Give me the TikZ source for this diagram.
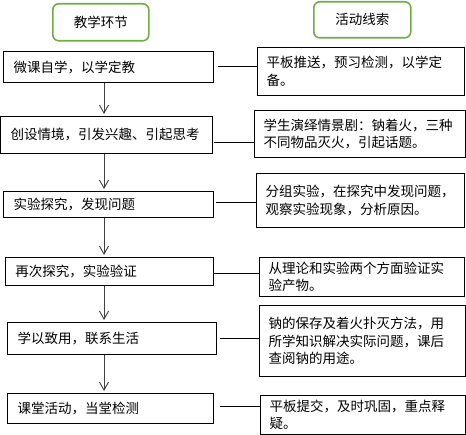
\documentclass[tikz,border=0pt]{standalone}
\usepackage{fontspec}
\setmainfont{Noto Sans CJK SC}
\usetikzlibrary{arrows.meta,positioning}
\definecolor{headgreen}{RGB}{112,173,71}
\definecolor{flowgray}{RGB}{64,64,64}

\begin{document}
\begin{tikzpicture}[x=1pt,y=-1pt,
 hd/.style={draw=headgreen,line width=1.6pt,rounded corners=6pt,anchor=north west,inner sep=0pt,font=\fontsize{13.5}{17.5}\selectfont},
 lb/.style={draw,line width=1pt,anchor=north west,inner sep=0pt,align=left,font=\fontsize{13.5}{17.5}\selectfont},
 rb/.style={draw,line width=1pt,anchor=north west,inner sep=0pt,align=left,font=\fontsize{13.5}{17.5}\selectfont},
 a/.style={-{Straight Barb[length=8pt,width=9pt]},draw=flowgray,line width=0.9pt,shorten >=2pt},
 link/.style={line width=1pt}]
\useasboundingbox (0,0) rectangle (466,435);
% headers
\node[hd,minimum width=96pt,minimum height=37pt] (hl) at (52,3) {教学环节};
\node[hd,minimum width=97pt,minimum height=36pt] (hr) at (313,1) {活动线索};
% teaching steps
\node[lb,minimum width=210pt,minimum height=31pt,text width=190pt] (l1) at (3,51) {微课自学，以学定教};
\node[lb,minimum width=212pt,minimum height=37pt,text width=192pt] (l2) at (0,116) {创设情境，引发兴趣、引起思考};
\node[lb,minimum width=210pt,minimum height=26pt,text width=190pt] (l3) at (3,191) {实验探究，发现问题};
\node[lb,minimum width=208pt,minimum height=28pt,text width=188pt] (l4) at (5,257) {再次探究，实验验证};
\node[lb,minimum width=209pt,minimum height=32pt,text width=189pt] (l5) at (7,322) {学以致用，联系生活};
\node[lb,minimum width=206pt,minimum height=30pt,text width=186pt] (l6) at (7,393) {课堂活动，当堂检测};
% activities
\node[rb,minimum width=207pt,minimum height=48pt,text width=189pt] (r1) at (257,47) {平板推送，预习检测，以学定\\备。};
\node[rb,minimum width=211pt,minimum height=47pt,text width=193pt] (r2) at (254,110) {学生演绎情景剧：钠着火，三种\\不同物品灭火，引起话题。};
\node[rb,minimum width=208pt,minimum height=54pt,text width=190pt] (r3) at (256,173) {分组实验，在探究中发现问题，\\观察实验现象，分析原因。};
\node[rb,minimum width=205pt,minimum height=39pt,text width=187pt] (r4) at (259,257) {从理论和实验两个方面验证实\\验产物。};
\node[rb,minimum width=206pt,minimum height=71pt,text width=188pt] (r5) at (259,305) {钠的保存及着火扑灭方法，用\\所学知识解决实际问题，课后\\查阅钠的用途。};
\node[rb,minimum width=205pt,minimum height=39pt,text width=187pt] (r6) at (260,395) {平板提交，及时巩固，重点释\\疑。};
% flow
\coordinate (ax) at (104,0);
\draw[a] (l1.south -| ax)--(l2.north -| ax);\draw[a] (l2.south -| ax)--(l3.north -| ax);\draw[a] (l3.south -| ax)--(l4.north -| ax);
\draw[a] (l4.south -| ax)--(l5.north -| ax);\draw[a] (l5.south -| ax)--(l6.north -| ax);
% links
\draw[link] ([xshift=4pt]l1.east) coordinate (c1)--(c1 -| r1.west);
\draw[link] ([xshift=1pt,yshift=-7.5pt]l2.east) coordinate (c2)--(c2 -| r2.west);
\draw[link] ([xshift=2pt,yshift=2pt]l3.east) coordinate (c3)--(c3 -| r3.west);
\draw[link] ([yshift=-2pt]l4.east) coordinate (c4)--(c4 -| r4.west);
\draw[link] ([xshift=3pt]l5.east) coordinate (c5)--(c5 -| r5.west);
\draw[link] ([xshift=6pt,yshift=2pt]l6.east) coordinate (c6)--(c6 -| r6.west);
\end{tikzpicture}
\end{document}
